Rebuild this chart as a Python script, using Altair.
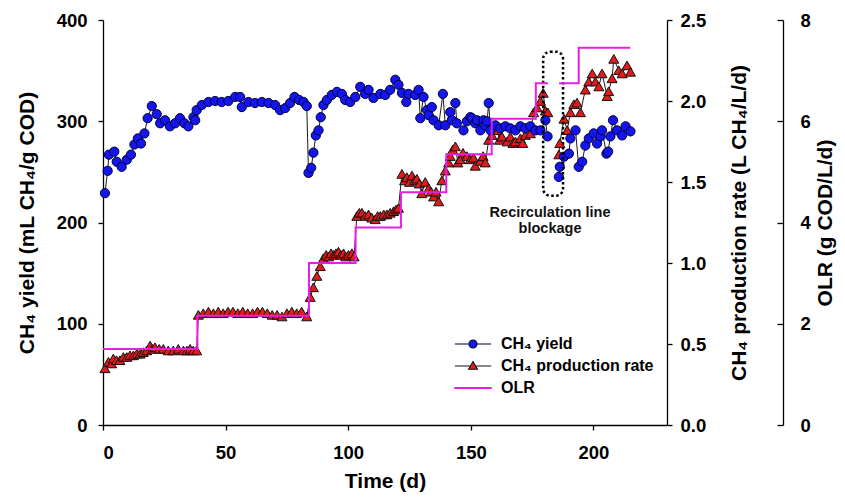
import altair as alt
import pandas as pd

# ---------------- data ----------------
yield_day = [0.8, 1.9, 2.4, 4.6, 5.6, 7.6, 9.7, 11.4, 12.8, 14.2, 15.5, 16.9, 18.2, 19.9, 21.9,
             23.3, 25.3, 27.3, 29.4, 31.4, 33.2, 34.8, 36.9, 37.6, 38.2, 40.3, 43.0, 45.7, 48.4,
             51.1, 53.9, 55.9, 56.6, 59.3, 62.0, 64.8, 67.5, 70.2, 72.2, 74.3, 76.3, 78.1, 80.0,
             81.8, 83.1, 83.8, 84.9, 85.8, 86.8, 87.9, 88.8, 89.9, 91.3, 93.3, 95.4, 97.4, 98.8,
             100.8, 102.9, 104.9, 106.9, 108.3, 110.3, 113.1, 115.1, 117.1, 119.2, 120.5, 121.9,
             123.7, 124.6, 127.3, 128.7, 129.4, 130.7, 132.1, 132.8, 134.1, 134.8, 136.9, 138.6,
             139.6, 141.6, 142.3, 143.7, 144.3, 147.0, 148.4, 149.8, 150.5, 151.8, 152.5, 153.9,
             155.2, 155.9, 156.6, 157.3, 158.0, 160.0, 162.0, 164.1, 166.1, 168.2, 170.2, 172.2,
             174.3, 176.3, 178.4, 180.4, 181.3, 185.9, 186.3, 188.0, 190.0, 190.6, 192.7, 194.0,
             195.4, 196.7, 198.1, 200.1, 201.5, 202.9, 203.5, 205.3, 206.0, 206.9, 208.0, 209.6,
             211.7, 213.1, 215.1]
yield_val = [229, 251, 267, 270, 260, 255, 262, 267, 277, 283, 278, 288, 303, 315, 307,
             298, 301, 295, 298, 303, 298, 295, 304, 301, 311, 316, 319, 320, 319,
             320, 324, 324, 314, 319, 318, 319, 318, 316, 311, 313, 318, 324, 321,
             319, 315, 249, 254, 269, 286, 291, 304, 316, 321, 326, 329, 327, 321,
             319, 324, 334, 327, 331, 323, 327, 326, 331, 341, 336, 328,
             319, 327, 326, 331, 303, 324, 311, 306, 314, 301, 296, 327,
             296, 309, 301, 318, 298, 291, 300, 304, 303, 298, 301, 291,
             301, 296, 300, 318, 291, 296, 293, 295, 293, 291, 295, 293,
             295, 291, 291, 301, 285, 245, 255, 265, 268, 283, 291, 255,
             260, 276, 283, 288, 278, 285, 291, 268, 270, 285, 301, 291,
             286, 295, 290]

rate_day = [0.8, 2.2, 3.5, 4.2, 5.5, 6.9, 8.3, 9.7, 11.0, 12.4, 13.8, 15.1, 16.4, 17.8, 19.2,
            20.2, 21.2, 22.9, 24.6, 26.6, 28.7, 30.7, 32.8, 34.2, 35.5, 36.8, 38.2, 38.9, 40.9,
            43.0, 45.0, 47.0, 49.0, 51.0, 53.0, 55.0, 57.0, 59.0, 61.0, 63.0, 65.0, 67.0, 69.0,
            71.0, 73.0, 75.0, 77.0, 79.0, 81.0, 83.1, 84.5, 85.8, 87.2, 88.6, 89.9, 91.0, 92.0,
            93.0, 94.0, 95.0, 96.0, 97.0, 98.1, 99.0, 100.1, 101.5, 102.4, 103.5, 104.5, 105.6,
            106.9, 108.3, 109.6, 111.0, 112.0, 113.1, 114.5, 115.8, 117.1, 118.5, 119.5, 120.5,
            121.9, 123.0, 123.9, 125.0, 126.0, 127.0, 128.0, 129.0, 130.0, 131.4, 132.8, 133.8,
            134.8, 135.8, 136.9, 138.2, 139.6, 141.0, 141.6, 142.6, 143.7, 144.7, 145.7, 146.8,
            148.4, 149.8, 151.1, 151.8, 153.9, 155.0, 155.9, 157.3, 158.6, 160.7, 161.7, 162.7,
            164.8, 166.1, 167.2, 168.2, 170.2, 171.2, 172.2, 174.3, 175.6, 177.0, 178.4, 179.5,
            180.4, 181.4, 185.9, 186.3, 188.0, 189.3, 190.6, 192.0, 193.3, 194.7, 196.7, 198.1,
            199.5, 200.8, 202.2, 203.5, 205.6, 206.2, 207.6, 208.3, 210.3, 211.7, 213.7, 215.1]
rate_val = [0.35, 0.39, 0.38, 0.41, 0.40, 0.40, 0.42, 0.42, 0.43, 0.43, 0.44, 0.44, 0.45, 0.46, 0.49,
            0.47, 0.48, 0.47, 0.47, 0.46, 0.46, 0.47, 0.46, 0.46, 0.47, 0.46, 0.46, 0.68, 0.69,
            0.70, 0.69, 0.70, 0.69, 0.70, 0.70, 0.69, 0.70, 0.69, 0.69, 0.70, 0.70, 0.69, 0.68,
            0.68, 0.67, 0.69, 0.70, 0.69, 0.70, 0.67, 0.79, 0.85, 0.92, 0.98, 1.03, 1.05, 1.04,
            1.06, 1.05, 1.06, 1.07, 1.05, 1.06, 1.04, 1.05, 1.06, 1.04, 1.29, 1.31, 1.31,
            1.29, 1.30, 1.28, 1.27, 1.29, 1.29, 1.30, 1.30, 1.31, 1.32, 1.33, 1.34,
            1.55, 1.51, 1.53, 1.50, 1.54, 1.51, 1.52, 1.49, 1.43, 1.50, 1.46, 1.44,
            1.41, 1.44, 1.38, 1.51, 1.57, 1.62, 1.66, 1.70, 1.72, 1.62, 1.64, 1.68,
            1.66, 1.64, 1.65, 1.60, 1.63, 1.66, 1.62, 1.76, 1.79, 1.82, 1.76, 1.78,
            1.75, 1.78, 1.74, 1.75, 1.77, 1.74, 1.79, 1.80, 1.93, 1.96, 2.00, 2.05,
            1.94, 1.93, 1.67, 1.74, 1.89, 1.82, 1.93, 1.98, 1.99, 1.93, 2.07, 2.12,
            2.17, 2.12, 2.09, 2.17, 2.03, 2.06, 2.14, 2.26, 2.19, 2.17, 2.22, 2.18]

olr_day = [0, 38.5, 84, 103, 121.5, 140, 158.5, 176.5, 181.5, 186, 194, 215]
olr_val = [1.5, 2.16, 3.2, 3.9, 4.6, 5.35, 6.05, 6.75, 6.75, 6.75, 7.45, 7.45]

blockage_start = [179.5]
blockage_end = [187.6]
blockage_low = [226.5]
blockage_high = [368.7]
note_day = [182.3]
note_yield = [205.7]
note_text = ["Recirculation line\nblockage"]

series_names = ["CH\u2084 yield", "CH\u2084 production rate", "OLR"]

GAP = 183.5  # no measurements during the blockage

# ---------------- styles ----------------
FONT = "Liberation Sans"
BLUE = "#1515ee"
RED = "#e01b1b"
MAGENTA = "#e61ee6"

ydf = pd.DataFrame({"day": yield_day, "val": yield_val})
ydf["seg"] = (ydf["day"] > GAP).astype(int)
rdf = pd.DataFrame({"day": rate_day, "val": rate_val})
rdf["seg"] = (rdf["day"] > GAP).astype(int)
odf = pd.DataFrame({"day": olr_day, "val": olr_val})
odf["seg"] = (odf["day"] > GAP).astype(int)
bdf = pd.DataFrame({"day": blockage_start, "d2": blockage_end, "val": blockage_low, "hi": blockage_high})
ndf = pd.DataFrame({"day": note_day, "val": note_yield, "label": note_text})
ldf = pd.DataFrame({"series": series_names})

XSCALE = alt.Scale(domain=[0, 230], nice=False)
XAXIS = alt.Axis(values=[0, 50, 100, 150, 200], title="Time (d)", tickSize=5,
                 labelPadding=13, titlePadding=9)
X = alt.X("day:Q", scale=XSCALE, axis=XAXIS)

# yield (left axis)
Yy = alt.Y("val:Q", scale=alt.Scale(domain=[0, 400], nice=False),
           axis=alt.Axis(orient="left", values=[0, 100, 200, 300, 400],
                         title="CH\u2084 yield (mL CH\u2084/g COD)", tickSize=5,
                         labelPadding=11, titlePadding=19))
y_line = alt.Chart(ydf).mark_line(color="#1a1a1a", strokeWidth=1).encode(x=X, y=Yy, detail="seg:N")
y_pts = alt.Chart(ydf).mark_point(shape="circle", filled=True, fill=BLUE, stroke="#00003a",
                                  strokeWidth=1, size=85, opacity=1).encode(x=X, y=Yy)
box = alt.Chart(bdf).mark_rect(fillOpacity=0, stroke="black", strokeWidth=2.5,
                               strokeDash=[2.5, 2.5], cornerRadius=7).encode(
    x=X, x2="d2:Q", y=Yy, y2="hi:Q")
note = alt.Chart(ndf).mark_text(font=FONT, fontSize=14.5, fontWeight="bold", align="center",
                                baseline="alphabetic", lineBreak="\n", lineHeight=16,
                                color="#111").encode(x=X, y=Yy, text="label:N")
yield_layer = alt.layer(y_line, y_pts, box, note)

# production rate (first right axis)
Yr = alt.Y("val:Q", scale=alt.Scale(domain=[0, 2.5], nice=False),
           axis=alt.Axis(orient="right", values=[0, 0.5, 1.0, 1.5, 2.0, 2.5], format=".1f",
                         title="CH\u2084 production rate (L CH\u2084/L/d)", tickSize=5,
                         labelPadding=8, titlePadding=44, titleAngle=270))
r_line = alt.Chart(rdf).mark_line(color="#1a1a1a", strokeWidth=1).encode(x=X, y=Yr, detail="seg:N")
r_pts = alt.Chart(rdf).mark_point(shape="triangle-up", filled=True, fill=RED, stroke="#111",
                                  strokeWidth=1, size=100, opacity=1).encode(x=X, y=Yr)
rate_layer = alt.layer(r_line, r_pts)

# OLR (second right axis, offset)
Yo = alt.Y("val:Q", scale=alt.Scale(domain=[0, 8], nice=False),
           axis=alt.Axis(orient="right", offset=116, values=[0, 2, 4, 6, 8], ticks=False,
                         title="OLR (g COD/L/d)", labelPadding=17, titlePadding=25, titleAngle=270))
olr_layer = alt.Chart(odf).mark_line(color=MAGENTA, strokeWidth=2, interpolate="step-after").encode(
    x=X, y=Yo, detail="seg:N")
Yo_t = alt.Y("val:Q", scale=alt.Scale(domain=[0, 8], nice=False),
             axis=alt.Axis(orient="right", offset=110, values=[0, 2, 4, 6, 8], labels=False,
                           domain=False, tickSize=6, title=None))
olr_ticks = alt.Chart(odf).mark_line(opacity=0).encode(x=X, y=Yo_t, detail="seg:N")

# legend
path_circle = ("M-1.65,0H-0.36M0.36,0H1.65"
               "M0.36,0A0.36,0.36,0,1,1,-0.36,0A0.36,0.36,0,1,1,0.36,0Z")
path_tri = "M-1.65,0H-0.3M0.3,0H1.65M0,-0.4L0.4,0.3L-0.4,0.3Z"
path_line = "M-1.65,-0.045H1.65V0.045H-1.65Z"
leg_props = dict(orient="none", legendX=358, legendY=312, title=None, symbolSize=484,
                 labelFont=FONT, labelFontSize=16, labelFontWeight="bold", labelColor="black",
                 labelOffset=16, rowPadding=2, padding=0, symbolStrokeWidth=1.1,
                 symbolOpacity=1, labelLimit=300)
legend_layer = alt.Chart(ldf).mark_point(opacity=0, filled=True).encode(
    fill=alt.Fill("series:N", scale=alt.Scale(domain=series_names, range=[BLUE, RED, MAGENTA]),
                  legend=alt.Legend(**leg_props)),
    stroke=alt.Stroke("series:N", scale=alt.Scale(domain=series_names, range=["#00003a", "#111111", MAGENTA]),
                      legend=alt.Legend(**leg_props)),
    shape=alt.Shape("series:N", scale=alt.Scale(domain=series_names, range=[path_circle, path_tri, path_line]),
                    legend=alt.Legend(**leg_props)),
)

chart = alt.layer(rate_layer, yield_layer, olr_layer, olr_ticks, legend_layer).resolve_scale(
    y="independent").resolve_axis(y="independent").properties(
    width=564, height=405,
    padding={"left": 95, "top": 12, "right": 170, "bottom": 69},
    autosize=alt.AutoSizeParams(type="none"),
).configure_view(stroke=None).configure_axis(
    grid=False, domainColor="black", domainWidth=1.3, tickColor="black", tickWidth=1.3,
    labelFont=FONT, labelFontSize=18.5, labelFontWeight="bold", labelColor="black",
    titleFont=FONT, titleFontSize=21, titleFontWeight="bold", titleColor="black",
)

chart.save("out.html", embed_options={"renderer": "svg", "actions": False})
